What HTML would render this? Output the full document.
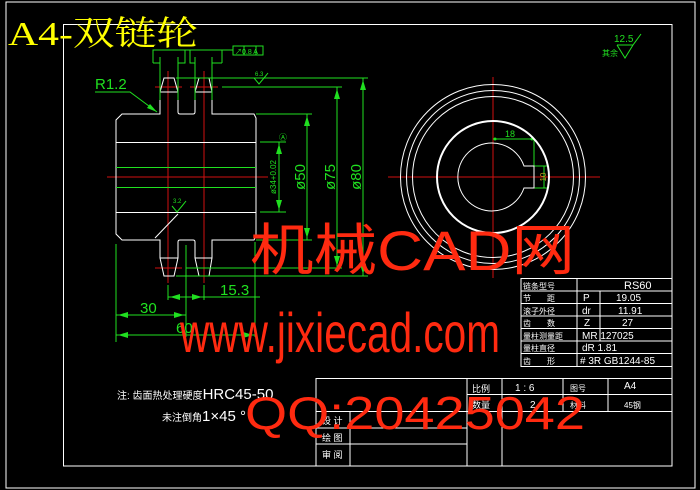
<!DOCTYPE html>
<html><head><meta charset="utf-8"><style>
html,body{margin:0;padding:0;background:#000;}
svg{display:block}
text{font-family:"Liberation Sans","Noto Sans CJK SC",sans-serif;}
</style></head><body>
<svg width="700" height="490" viewBox="0 0 700 490" xmlns="http://www.w3.org/2000/svg">
<rect width="700" height="490" fill="#000"/>
<rect x="6" y="2" width="689" height="486" fill="none" stroke="#fff" stroke-width="1"/>
<rect x="63.5" y="24.5" width="608.5" height="441.5" fill="none" stroke="#fff" stroke-width="1"/>
<text x="8" y="45" font-size="34" fill="#ffff00" textLength="190" lengthAdjust="spacingAndGlyphs" style="font-family:'Liberation Serif','Noto Serif CJK SC',serif">A4-双链轮</text>

<g stroke="#d01010" stroke-width="1">
<line x1="168" y1="71" x2="168" y2="283"/>
<line x1="204" y1="71" x2="204" y2="283"/>
<line x1="107" y1="177" x2="268" y2="177"/>
<line x1="155" y1="87" x2="182" y2="87"/>
<line x1="190" y1="87" x2="218" y2="87"/>
<line x1="155" y1="268" x2="182" y2="268"/>
<line x1="190" y1="268" x2="218" y2="268"/>
<line x1="388" y1="177" x2="600" y2="177"/>
<line x1="493" y1="77" x2="493" y2="278"/>
</g>

<g stroke="#fff" stroke-width="1" fill="none">
<path d="M122,114 L160,114 L160,92 L164,78 L174,78 L178,92 L178,112 Q178,114 180,114 L193,114 Q195,114 195,112 L195,92 L199,78 L209,78 L212,92 L212,114 L254,114 L256,118 L256,236 L254,240 L212,240 L212,258 L209,276 L199,276 L195,258 L195,242 Q195,240 193,240 L180,240 Q178,240 178,242 L178,258 L174,276 L164,276 L160,258 L160,240 L122,240 L116,234 L116,120 Z"/>
<line x1="160" y1="92" x2="178" y2="92"/>
<line x1="195" y1="92" x2="212" y2="92"/>
<line x1="160" y1="258" x2="178" y2="258"/>
<line x1="195" y1="258" x2="212" y2="258"/>
<line x1="116" y1="142.5" x2="256" y2="142.5"/>
<line x1="116" y1="212.5" x2="256" y2="212.5"/>
<line x1="155" y1="238" x2="178" y2="214"/>
</g>
<g stroke="#20e020" stroke-width="1" fill="none">
<line x1="116" y1="167.5" x2="256" y2="167.5"/>
<line x1="116" y1="187.5" x2="256" y2="187.5"/>
<path d="M153,63 L153,50 L222,50 L222,63"/>
<path d="M153,63 L160,63 M178,63 L185,63 L185,50 M190,50 L190,63 L195,63 M212,63 L222,63"/>
<line x1="160" y1="57" x2="160" y2="100"/><line x1="178" y1="57" x2="178" y2="100"/>
<line x1="195" y1="57" x2="195" y2="100"/><line x1="212" y1="57" x2="212" y2="100"/>
<line x1="222" y1="50" x2="233" y2="50"/>
<rect x="233" y="46" width="30" height="9"/>
<line x1="244" y1="46" x2="244" y2="55"/><line x1="256" y1="46" x2="256" y2="55"/>
<line x1="176" y1="78" x2="368" y2="78"/>
<line x1="222" y1="87" x2="342" y2="87"/>
<line x1="256" y1="114" x2="312" y2="114"/>
<line x1="260" y1="142" x2="286" y2="142"/>
<line x1="260" y1="212" x2="286" y2="212"/>
<line x1="256" y1="240" x2="312" y2="240"/>
<line x1="186" y1="268" x2="342" y2="268"/>
<line x1="176" y1="276" x2="368" y2="276"/>
<line x1="363" y1="78" x2="363" y2="276"/>
<line x1="337" y1="87" x2="337" y2="268"/>
<line x1="307" y1="114" x2="307" y2="240"/>
<line x1="279" y1="142" x2="279" y2="212"/>
<path d="M95,92 L130,92 L157,112"/>
<line x1="116" y1="244" x2="116" y2="342"/>
<line x1="186" y1="245" x2="186" y2="337"/>
<line x1="255" y1="242" x2="255" y2="337"/>
<line x1="168" y1="285" x2="168" y2="300"/>
<line x1="204" y1="285" x2="204" y2="300"/>
<line x1="168" y1="297" x2="260" y2="297"/>
<line x1="116" y1="315" x2="186" y2="315"/>
<line x1="116" y1="335" x2="255" y2="335"/>
<line x1="493" y1="139" x2="534" y2="139"/>
<line x1="534" y1="139" x2="534" y2="188"/>
<line x1="534" y1="166" x2="548" y2="166"/><line x1="534" y1="188" x2="548" y2="188"/>
<line x1="544" y1="166" x2="544" y2="188"/>
<path d="M617,45 L625,58 L633,45 L641,34"/><line x1="617" y1="45" x2="633" y2="45"/>
<path d="M254,78 L259,84 L264,78 L268,73"/>
<path d="M172,206 L177,212 L182,206 L186,201"/>
</g>
<g fill="#20e020">
<polygon points="363,80 360,90 366,90"/><polygon points="363,274 360,264 366,264"/>
<polygon points="337,89 334,99 340,99"/><polygon points="337,266 334,256 340,256"/>
<polygon points="307,116 304,126 310,126"/><polygon points="307,238 304,228 310,228"/>
<polygon points="279,144 276,154 282,154"/><polygon points="279,210 276,200 282,200"/>
<polygon points="118,315 128,312 128,318"/><polygon points="184,315 174,312 174,318"/>
<polygon points="118,335 128,332 128,338"/><polygon points="253,335 243,332 243,338"/>
<polygon points="170,297 180,294 180,300"/><polygon points="202,297 192,294 192,300"/>
<polygon points="157,112 150,104 147,108"/>
<circle cx="495" cy="139" r="1.5"/><circle cx="532" cy="139" r="1.5"/>
</g>
<g fill="#20e020" font-size="15">
<text x="95" y="89">R1.2</text>
<text x="220" y="295">15.3</text>
<text x="140" y="313">30</text>
<text x="176" y="333">60</text>
<text x="505" y="137" font-size="9">18</text>
<text x="614" y="42" font-size="10">12.5</text>
<text x="602" y="56" font-size="8">其余</text>
<text x="235" y="54" font-size="7">↗0.8 A</text>
<text x="255" y="76" font-size="6">6.3</text>
<text x="173" y="203" font-size="6">3.2</text>
<text transform="translate(305,177) rotate(-90)" text-anchor="middle">ø50</text>
<text transform="translate(335,177) rotate(-90)" text-anchor="middle">ø75</text>
<text transform="translate(361,177) rotate(-90)" text-anchor="middle">ø80</text>
<text transform="translate(276,177) rotate(-90)" text-anchor="middle" font-size="8">ø34+0.02</text>
<text transform="translate(546,177) rotate(-90)" text-anchor="middle" font-size="8" fill="#c0a020">10</text>
<text x="279" y="140" font-size="8">Ⓐ</text>
</g>

<g stroke="#fff" fill="none">
<circle cx="493" cy="177" r="92.5" stroke-width="1"/>
<circle cx="493" cy="177" r="86.5" stroke-width="1"/>
<circle cx="493" cy="177" r="80.5" stroke-width="1"/>
<circle cx="493" cy="177" r="56" stroke-width="2"/>
<path d="M524,166 A34,34 0 1 0 524,188 L534,188 L534,166 Z" stroke-width="1"/>
</g>

<g fill="#fff">
<text x="117" y="399" font-size="10">注: 齿面热处理硬度<tspan font-size="15">HRC45-50</tspan></text>
<text x="162" y="421" font-size="10">未注倒角<tspan font-size="15">1×45 °</tspan></text>
</g>

<g stroke="#fff" stroke-width="1" fill="none">
<rect x="521" y="278.5" width="151" height="88"/>
<line x1="521" y1="291" x2="672" y2="291"/>
<line x1="521" y1="303.5" x2="672" y2="303.5"/>
<line x1="521" y1="316" x2="672" y2="316"/>
<line x1="521" y1="328.5" x2="672" y2="328.5"/>
<line x1="521" y1="341" x2="672" y2="341"/>
<line x1="521" y1="353.5" x2="672" y2="353.5"/>
<line x1="577" y1="278.5" x2="577" y2="366.5"/>
<line x1="600" y1="291" x2="600" y2="341"/>
<rect x="316" y="378.5" width="356" height="87.5"/>
<line x1="467" y1="394.5" x2="672" y2="394.5"/>
<line x1="316" y1="411.5" x2="672" y2="411.5"/>
<line x1="316" y1="428" x2="467" y2="428"/>
<line x1="316" y1="444" x2="467" y2="444"/>
<line x1="350" y1="411.5" x2="350" y2="466"/>
<line x1="467" y1="378.5" x2="467" y2="466"/>
<line x1="502" y1="378.5" x2="502" y2="466"/>
<line x1="563" y1="378.5" x2="563" y2="411.5"/>
<line x1="608" y1="378.5" x2="608" y2="411.5"/>
</g>
<g fill="#fff" font-size="10">
<text x="523" y="289" font-size="8">链条型号</text><text x="624" y="289" font-size="11">RS60</text>
<text x="523" y="301" font-size="8">节　　距</text><text x="583" y="301">P</text><text x="616" y="301">19.05</text>
<text x="523" y="314" font-size="8">滚子外径</text><text x="582" y="314">dr</text><text x="618" y="314">11.91</text>
<text x="523" y="326" font-size="8">齿　　数</text><text x="584" y="326">Z</text><text x="622" y="326">27</text>
<text x="523" y="339" font-size="8">量柱测量距</text><text x="582" y="339">MR 127025</text>
<text x="523" y="351" font-size="8">量柱直径</text><text x="582" y="351">dR 1.81</text>
<text x="523" y="364" font-size="8">齿　　形</text><text x="580" y="364"># 3R  GB1244-85</text>
<text x="472" y="392" font-size="9">比例</text><text x="515" y="391">1 : 6</text>
<text x="570" y="391" font-size="8">图号</text><text x="624" y="389">A4</text>
<text x="472" y="408" font-size="9">数量</text><text x="530" y="408">2</text>
<text x="570" y="408" font-size="8">材料</text><text x="624" y="408" font-size="8">45钢</text>
<text x="322" y="424" font-size="9">设 计</text>
<text x="322" y="441" font-size="9">绘 图</text>
<text x="322" y="458" font-size="9">审 阅</text>
</g>

<g fill="#ff2a10">
<text x="250" y="270" font-size="56" textLength="325" lengthAdjust="spacingAndGlyphs">机械CAD网</text>
<text x="180" y="352" font-size="56" textLength="320" lengthAdjust="spacingAndGlyphs">www.jixiecad.com</text>
<text x="245" y="429" font-size="46" textLength="340" lengthAdjust="spacingAndGlyphs">QQ:20425042</text>
</g>
</svg>
</body></html>
